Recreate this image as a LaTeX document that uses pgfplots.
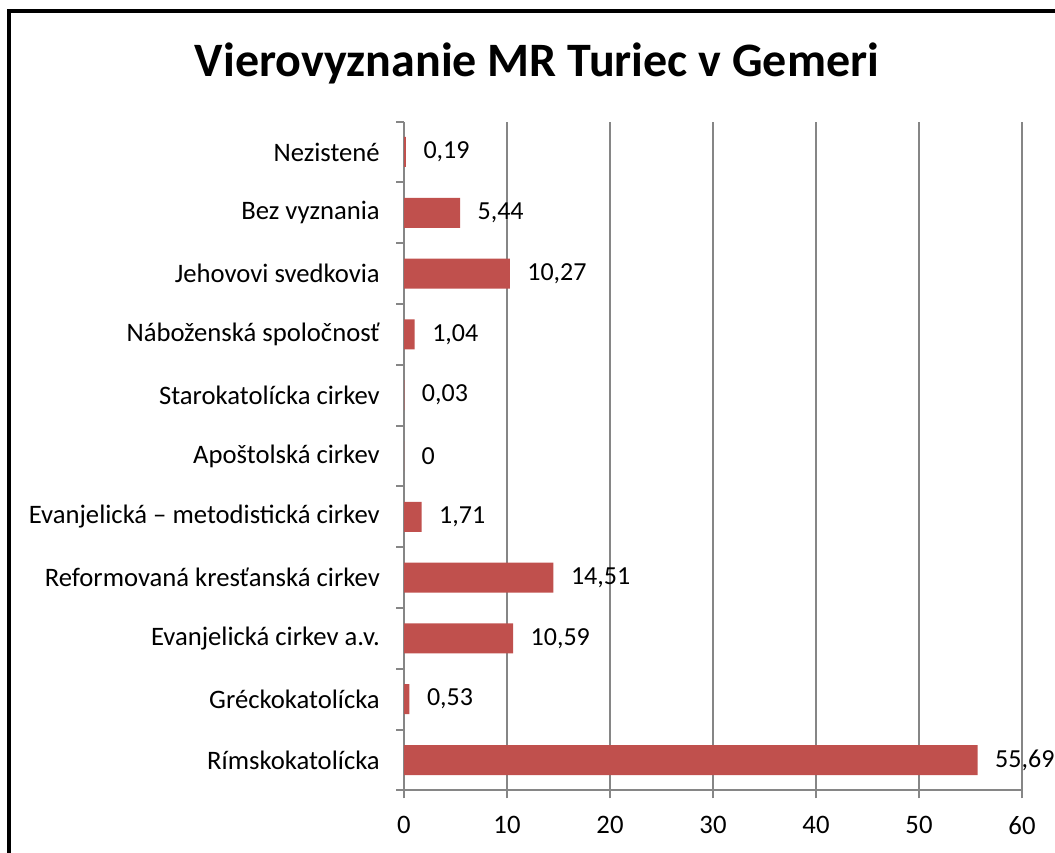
\documentclass[border=0pt]{standalone}
\usepackage{fontspec}
\setmainfont{Carlito}
\usepackage{pgfplots}
\pgfplotsset{compat=1.18}
\definecolor{barred}{HTML}{C0504D}
\definecolor{gridgray}{HTML}{868686}
\begin{document}
\begin{tikzpicture}
\clip (0pt,0pt) rectangle (791.25pt,-639pt);
\useasboundingbox (0pt,0pt) rectangle (791.25pt,-639pt);
\draw[line width=3pt] (6.75pt,-700pt) -- (6.75pt,-8.6pt) -- (850pt,-8.6pt);
\node[font=\fontsize{36}{42}\selectfont\bfseries, anchor=base] at (402.75pt,-57.5pt) {Vierovyznanie MR Turiec v Gemeri};
\begin{axis}[
  at={(303pt,-592.8pt)}, anchor=south west,
  scale only axis, width=463.5pt, height=501.6pt,
  xbar, bar width=22.5pt,
  xmin=0, xmax=60, ymin=-0.5, ymax=10.5,
  axis lines*=left,
  axis line style={gridgray, line width=1.5pt},
  xtick={0,10,...,60},
  xmajorgrids,
  major grid style={gridgray, line width=1.5pt},
  tick align=outside,
  major tick length=6pt,
  minor tick length=6pt,
  tick style={gridgray, line width=1.5pt},
  ytick={0,...,10},
  yticklabels={Rímskokatolícka, Gréckokatolícka, Evanjelická cirkev a.v., Reformovaná kresťanská cirkev, Evanjelická – metodistická cirkev, Apoštolská cirkev, Starokatolícka cirkev, Náboženská spoločnosť, Jehovovi svedkovia, Bez vyznania, Nezistené},
  major y tick style={draw=none},
  minor ytick={-0.5,0.5,...,10.5},
  ticklabel style={font=\fontsize{20}{24}\selectfont},
  yticklabel style={inner sep=0pt, xshift=-12pt},
  xticklabel style={inner sep=0pt, yshift=-13pt},
  /pgf/number format/assume math mode=true,
  /pgf/number format/fixed,
  /pgf/number format/precision=2,
  /pgf/number format/use comma,
  nodes near coords,
  every node near coord/.append style={font=\fontsize{19.5}{23}\selectfont, anchor=west, inner sep=0pt, xshift=13pt, text=black},
]
\addplot[fill=barred, draw=none] coordinates {
(55.69,0) (0.53,1) (10.59,2) (14.51,3) (1.71,4) (0,5) (0.03,6) (1.04,7) (10.27,8) (5.44,9) (0.19,10)
};
\end{axis}
\end{tikzpicture}
\end{document}
